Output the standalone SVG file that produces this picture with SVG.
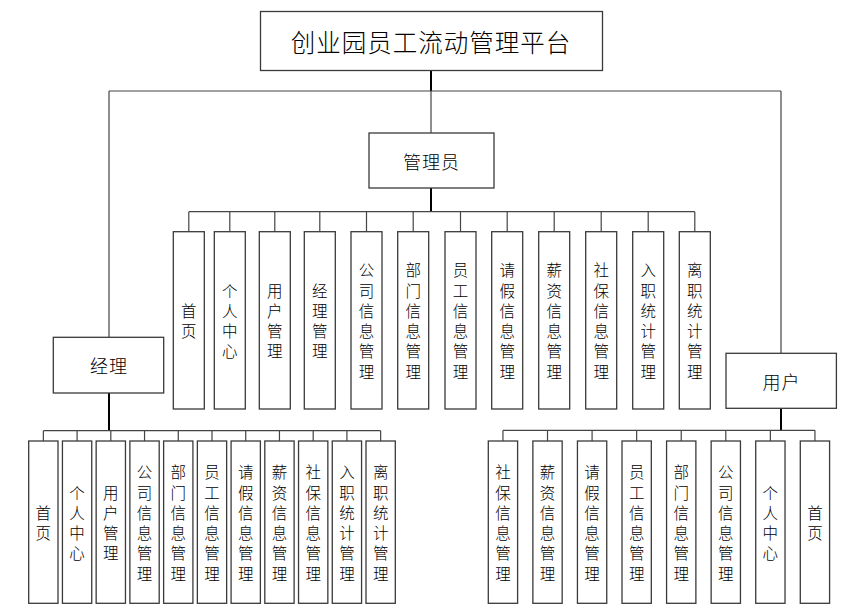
<svg xmlns="http://www.w3.org/2000/svg" width="850" height="615" viewBox="0 0 850 615">
<style>
.box{fill:#fff;stroke:#3a3a3a;stroke-width:1.3}
.ln{fill:none;stroke:#444;stroke-width:1.2}
.stem{fill:none;stroke:#000;stroke-width:2}
text{font-family:"Noto Sans CJK SC","Noto Sans",sans-serif;font-weight:300;fill:#000;text-anchor:middle;dominant-baseline:central}
.v{font-size:15.5px}
.h{font-size:18px;letter-spacing:1px}
</style>
<rect width="850" height="615" fill="#fff"/>
<g id="connectors">
<path class="stem" d="M431 70.7V91"/>
<path class="ln" d="M431 91V133M109 91H781M109 91V337.3M781 91V353.3"/>
<path class="stem" d="M431 188V211.7"/>
<path class="ln" d="M188.8 211.7H694.8M188.8 211.7V231.7M229.8 211.7V231.7M274.8 211.7V231.7M319.8 211.7V231.7M366.5 211.7V231.7M413.2 211.7V231.7M460.5 211.7V231.7M507.2 211.7V231.7M554.2 211.7V231.7M601.2 211.7V231.7M648.2 211.7V231.7M694.8 211.7V231.7"/>
<path class="stem" d="M109 393V430.7"/>
<path class="ln" d="M43.35 430.7H380.65M43.35 430.7V441M77.08 430.7V441M110.81 430.7V441M144.54 430.7V441M178.27 430.7V441M212 430.7V441M245.73 430.7V441M279.46 430.7V441M313.19 430.7V441M346.92 430.7V441M380.65 430.7V441"/>
<path class="stem" d="M781 408.3V430.3"/>
<path class="ln" d="M502.95 430.3H814.94M502.95 430.3V441M547.52 430.3V441M592.09 430.3V441M636.66 430.3V441M681.23 430.3V441M725.8 430.3V441M770.37 430.3V441M814.94 430.3V441"/>
</g>
<g id="root"><rect class="box" x="260.5" y="11.5" width="342" height="59"/><text x="431" y="41" style="font-size:24.5px;letter-spacing:1px">创业园员工流动管理平台</text></g>
<g id="admin"><rect class="box" x="369" y="133" width="125" height="55"/><text class="h" x="431.5" y="160.5">管理员</text></g>
<g id="manager"><rect class="box" x="53.3" y="337.3" width="110.4" height="55.7"/><text class="h" x="109" y="365">经理</text></g>
<g id="user"><rect class="box" x="726" y="353.3" width="110.4" height="55"/><text class="h" x="781.5" y="381">用户</text></g>

<g id="a1"><rect class="box" x="173.3" y="231.7" width="31" height="177.3"/><text class="v" x="188.8 188.8" y="309.85 330.15">首页</text></g>
<g id="a2"><rect class="box" x="214.3" y="231.7" width="31" height="177.3"/><text class="v" x="229.8 229.8 229.8 229.8" y="289.55 309.85 330.15 350.45">个人中心</text></g>
<g id="a3"><rect class="box" x="259.3" y="231.7" width="31" height="177.3"/><text class="v" x="274.8 274.8 274.8 274.8" y="289.55 309.85 330.15 350.45">用户管理</text></g>
<g id="a4"><rect class="box" x="304.3" y="231.7" width="31" height="177.3"/><text class="v" x="319.8 319.8 319.8 319.8" y="289.55 309.85 330.15 350.45">经理管理</text></g>
<g id="a5"><rect class="box" x="351" y="231.7" width="31" height="177.3"/><text class="v" x="366.5 366.5 366.5 366.5 366.5 366.5" y="269.25 289.55 309.85 330.15 350.45 370.75">公司信息管理</text></g>
<g id="a6"><rect class="box" x="397.7" y="231.7" width="31" height="177.3"/><text class="v" x="413.2 413.2 413.2 413.2 413.2 413.2" y="269.25 289.55 309.85 330.15 350.45 370.75">部门信息管理</text></g>
<g id="a7"><rect class="box" x="445" y="231.7" width="31" height="177.3"/><text class="v" x="460.5 460.5 460.5 460.5 460.5 460.5" y="269.25 289.55 309.85 330.15 350.45 370.75">员工信息管理</text></g>
<g id="a8"><rect class="box" x="491.7" y="231.7" width="31" height="177.3"/><text class="v" x="507.2 507.2 507.2 507.2 507.2 507.2" y="269.25 289.55 309.85 330.15 350.45 370.75">请假信息管理</text></g>
<g id="a9"><rect class="box" x="538.7" y="231.7" width="31" height="177.3"/><text class="v" x="554.2 554.2 554.2 554.2 554.2 554.2" y="269.25 289.55 309.85 330.15 350.45 370.75">薪资信息管理</text></g>
<g id="a10"><rect class="box" x="585.7" y="231.7" width="31" height="177.3"/><text class="v" x="601.2 601.2 601.2 601.2 601.2 601.2" y="269.25 289.55 309.85 330.15 350.45 370.75">社保信息管理</text></g>
<g id="a11"><rect class="box" x="632.7" y="231.7" width="31" height="177.3"/><text class="v" x="648.2 648.2 648.2 648.2 648.2 648.2" y="269.25 289.55 309.85 330.15 350.45 370.75">入职统计管理</text></g>
<g id="a12"><rect class="box" x="679.3" y="231.7" width="31" height="177.3"/><text class="v" x="694.8 694.8 694.8 694.8 694.8 694.8" y="269.25 289.55 309.85 330.15 350.45 370.75">离职统计管理</text></g>

<g id="m1"><rect class="box" x="28.7" y="441" width="29.3" height="162.3"/><text class="v" x="43.35 43.35" y="511.85 532.15">首页</text></g>
<g id="m2"><rect class="box" x="62.43" y="441" width="29.3" height="162.3"/><text class="v" x="77.08 77.08 77.08 77.08" y="491.55 511.85 532.15 552.45">个人中心</text></g>
<g id="m3"><rect class="box" x="96.16" y="441" width="29.3" height="162.3"/><text class="v" x="110.81 110.81 110.81 110.81" y="491.55 511.85 532.15 552.45">用户管理</text></g>
<g id="m4"><rect class="box" x="129.89" y="441" width="29.3" height="162.3"/><text class="v" x="144.54 144.54 144.54 144.54 144.54 144.54" y="471.25 491.55 511.85 532.15 552.45 572.75">公司信息管理</text></g>
<g id="m5"><rect class="box" x="163.62" y="441" width="29.3" height="162.3"/><text class="v" x="178.27 178.27 178.27 178.27 178.27 178.27" y="471.25 491.55 511.85 532.15 552.45 572.75">部门信息管理</text></g>
<g id="m6"><rect class="box" x="197.35" y="441" width="29.3" height="162.3"/><text class="v" x="212 212 212 212 212 212" y="471.25 491.55 511.85 532.15 552.45 572.75">员工信息管理</text></g>
<g id="m7"><rect class="box" x="231.08" y="441" width="29.3" height="162.3"/><text class="v" x="245.73 245.73 245.73 245.73 245.73 245.73" y="471.25 491.55 511.85 532.15 552.45 572.75">请假信息管理</text></g>
<g id="m8"><rect class="box" x="264.81" y="441" width="29.3" height="162.3"/><text class="v" x="279.46 279.46 279.46 279.46 279.46 279.46" y="471.25 491.55 511.85 532.15 552.45 572.75">薪资信息管理</text></g>
<g id="m9"><rect class="box" x="298.54" y="441" width="29.3" height="162.3"/><text class="v" x="313.19 313.19 313.19 313.19 313.19 313.19" y="471.25 491.55 511.85 532.15 552.45 572.75">社保信息管理</text></g>
<g id="m10"><rect class="box" x="332.27" y="441" width="29.3" height="162.3"/><text class="v" x="346.92 346.92 346.92 346.92 346.92 346.92" y="471.25 491.55 511.85 532.15 552.45 572.75">入职统计管理</text></g>
<g id="m11"><rect class="box" x="366" y="441" width="29.3" height="162.3"/><text class="v" x="380.65 380.65 380.65 380.65 380.65 380.65" y="471.25 491.55 511.85 532.15 552.45 572.75">离职统计管理</text></g>

<g id="u1"><rect class="box" x="488.3" y="441" width="29.3" height="162.3"/><text class="v" x="502.95 502.95 502.95 502.95 502.95 502.95" y="471.25 491.55 511.85 532.15 552.45 572.75">社保信息管理</text></g>
<g id="u2"><rect class="box" x="532.87" y="441" width="29.3" height="162.3"/><text class="v" x="547.52 547.52 547.52 547.52 547.52 547.52" y="471.25 491.55 511.85 532.15 552.45 572.75">薪资信息管理</text></g>
<g id="u3"><rect class="box" x="577.44" y="441" width="29.3" height="162.3"/><text class="v" x="592.09 592.09 592.09 592.09 592.09 592.09" y="471.25 491.55 511.85 532.15 552.45 572.75">请假信息管理</text></g>
<g id="u4"><rect class="box" x="622.01" y="441" width="29.3" height="162.3"/><text class="v" x="636.66 636.66 636.66 636.66 636.66 636.66" y="471.25 491.55 511.85 532.15 552.45 572.75">员工信息管理</text></g>
<g id="u5"><rect class="box" x="666.58" y="441" width="29.3" height="162.3"/><text class="v" x="681.23 681.23 681.23 681.23 681.23 681.23" y="471.25 491.55 511.85 532.15 552.45 572.75">部门信息管理</text></g>
<g id="u6"><rect class="box" x="711.15" y="441" width="29.3" height="162.3"/><text class="v" x="725.8 725.8 725.8 725.8 725.8 725.8" y="471.25 491.55 511.85 532.15 552.45 572.75">公司信息管理</text></g>
<g id="u7"><rect class="box" x="755.72" y="441" width="29.3" height="162.3"/><text class="v" x="770.37 770.37 770.37 770.37" y="491.55 511.85 532.15 552.45">个人中心</text></g>
<g id="u8"><rect class="box" x="800.29" y="441" width="29.3" height="162.3"/><text class="v" x="814.94 814.94" y="511.85 532.15">首页</text></g>
</svg>
